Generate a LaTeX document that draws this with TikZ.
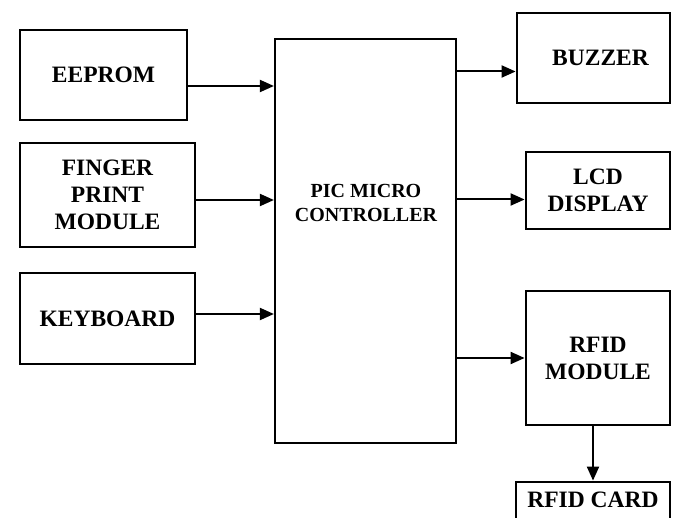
\documentclass[tikz,border=0pt]{standalone}
\usepackage{fontspec}
\setmainfont{Liberation Serif}
\usetikzlibrary{arrows.meta, positioning}

\begin{document}
\begin{tikzpicture}[x=1pt, y=-1pt,
    block/.style = {draw, line width=2.8pt, align=center, inner sep=0pt,
        font=\bfseries\fontsize{23.5}{27}\selectfont},
    link/.style = {line width=2pt, -{Triangle[length=14pt,width=12pt]}}]
        \useasboundingbox (0,0) rectangle (673,518);
        \clip (0,0) rectangle (673,518);
        % inputs
        \node[block, minimum width=167pt, minimum height=90pt] (eeprom) at (103.5,75) {EEPROM};
        \node[block, minimum width=175pt, minimum height=104pt] (finger) at (107.5,195) {FINGER\\PRINT\\MODULE};
        \node[block, minimum width=175pt, minimum height=91pt] (keyboard) at (107.5,318.5) {KEYBOARD};
        % controller
        \node[draw, line width=2.2pt, minimum width=181pt, minimum height=404pt] (pic) at (365.5,241) {};
        \node[align=center, font=\bfseries\fontsize{20}{24}\selectfont] (pictext) at (366,203) {PIC MICRO\\CONTROLLER};
        % outputs
        \node[block, minimum width=153pt, minimum height=90pt] (buzzer) at (593.5,58) {\hspace*{14pt}BUZZER};
        \node[block, minimum width=144pt, minimum height=77pt] (lcd) at (598,190.5) {LCD\\DISPLAY};
        \node[block, minimum width=144pt, minimum height=134pt] (rfid) at (598,358) {RFID\\MODULE};
        \node[block, minimum width=154pt, minimum height=43pt, text depth=8pt] (card) at (593,503.5) {RFID CARD};
        % connectors
        \coordinate (e1) at ([yshift=-11pt]eeprom.east);
        \coordinate (f1) at ([yshift=-5pt]finger.east);
        \coordinate (k1) at ([yshift=4.5pt]keyboard.east);
        \coordinate (b1) at ([yshift=-13.5pt]buzzer.west);
        \coordinate (l1) at ([yshift=-9pt]lcd.west);
        \draw[link] (e1) -- (e1 -| pic.west);
        \draw[link] (f1) -- (f1 -| pic.west);
        \draw[link] (k1) -- (k1 -| pic.west);
        \draw[link] (pic.east |- b1) -- (b1);
        \draw[link] (pic.east |- l1) -- (l1);
        \draw[link] (pic.east |- rfid.west) -- (rfid.west);
        \draw[link] (card.north |- rfid.south) -- (card.north);
    \end{tikzpicture}
\end{document}
